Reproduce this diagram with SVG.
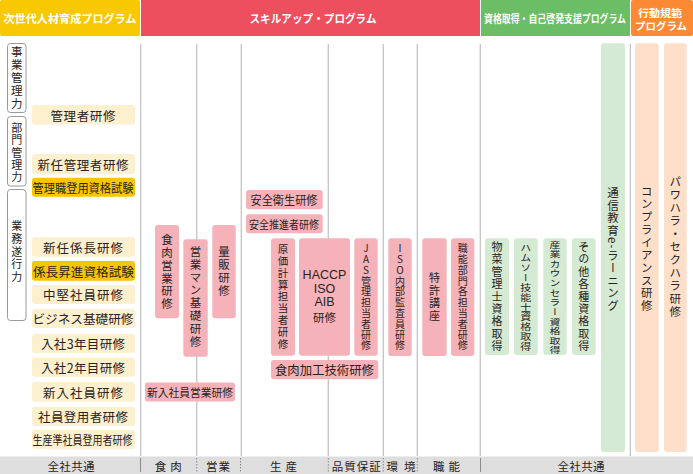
<svg xmlns="http://www.w3.org/2000/svg" width="693" height="474" viewBox="0 0 693 474">
<style>
.t{font-family:"Noto Sans CJK JP","Noto Sans",sans-serif;fill:#2a2220;}
.h{font-family:"Noto Sans CJK JP","Noto Sans",sans-serif;fill:#fff;font-weight:bold;}
.c{text-anchor:middle;dominant-baseline:central;}
.v{writing-mode:vertical-rl;text-anchor:middle;}
.u{text-orientation:upright;}
.lat{font-family:"Liberation Sans","Noto Sans",sans-serif;}
.ly{fill:#fdf0cf;}
.gd{fill:#f7c600;}
.pk{fill:#f5b3b9;}
.lg{fill:#d4ead2;}
.lo{fill:#fddfca;}
.lab{fill:#fff;stroke:#9a9a9a;stroke-width:1;}
.gl{stroke:#c4c4c4;stroke-width:1.3;}
.sep{stroke:#8a8a8a;stroke-width:1;}
.dot{stroke:#8a8a8a;stroke-width:1;stroke-dasharray:1.5 1.5;}
</style>
<rect width="693" height="474" fill="#fff"/>
<g id="headers">
<g id="h-next"><rect x="0" y="0" width="140" height="36" rx="2" fill="#f8c800"/><text class="h c" x="70" y="18" font-size="11.5" textLength="133" lengthAdjust="spacingAndGlyphs">次世代人材育成プログラム</text></g>
<g id="h-skill"><rect x="141" y="0" width="339" height="36" fill="#ee4f5e"/><text class="h c" x="313" y="18" font-size="11.5" textLength="127" lengthAdjust="spacingAndGlyphs">スキルアップ・プログラム</text></g>
<g id="h-qual"><rect x="481" y="0" width="149" height="36" fill="#6bbd66"/><text class="h c" x="555" y="18" font-size="11" textLength="142" lengthAdjust="spacingAndGlyphs">資格取得・自己啓発支援プログラム</text></g>
<g id="h-conduct"><rect x="631" y="0" width="62" height="36" rx="2" fill="#fc8a35"/><text class="h c" x="660" y="12" font-size="10.5" textLength="44" lengthAdjust="spacingAndGlyphs">行動規範</text><text class="h c" x="661" y="25.5" font-size="10.5" textLength="52" lengthAdjust="spacingAndGlyphs">プログラム</text></g>
</g>
<g id="connectors">
<line class="gl" x1="140.7" y1="44" x2="140.7" y2="456"/>
<line class="gl" x1="196.7" y1="44" x2="196.7" y2="456"/>
<line class="gl" x1="241.3" y1="44" x2="241.3" y2="456"/>
<line class="gl" x1="328.3" y1="44" x2="328.3" y2="456"/>
<line class="gl" x1="383.3" y1="44" x2="383.3" y2="456"/>
<line class="gl" x1="417.3" y1="44" x2="417.3" y2="456"/>
<line class="gl" x1="480.3" y1="44" x2="480.3" y2="456"/>
<line class="gl" x1="630.3" y1="44" x2="630.3" y2="456"/>
</g>
<g id="levels">
<g id="lv-business"><rect class="lab" x="7.5" y="43.5" width="18.5" height="69" rx="3"/><text class="t v" x="16.8" y="78.2" font-size="11.5" letter-spacing="1.5">事業管理力</text></g>
<g id="lv-dept"><rect class="lab" x="7.5" y="116.5" width="18.5" height="69.5" rx="3"/><text class="t v" x="16.8" y="153.1" font-size="11" letter-spacing="1.2">部門管理力</text></g>
<g id="lv-work"><rect class="lab" x="7.5" y="189.5" width="18.5" height="131" rx="3"/><text class="t v" x="16.8" y="252.3" font-size="11" letter-spacing="1.6">業務遂行力</text></g>
</g>
<g id="left-courses">
<g id="c-kanrisha"><rect class="ly" x="32" y="105" width="103" height="19.5" rx="3"/><text class="t c" x="83" y="115" font-size="12.5" textLength="65">管理者研修</text></g>
<g id="c-shinnin-kanri"><rect class="ly" x="32" y="154" width="103" height="20" rx="3"/><text class="t c" x="83" y="164.3" font-size="12.5" textLength="91">新任管理者研修</text></g>
<g id="c-kanrishoku"><rect class="gd" x="32" y="177.7" width="103" height="19" rx="3"/><text class="t c" x="83" y="187.5" font-size="12" textLength="101" lengthAdjust="spacingAndGlyphs">管理職登用資格試験</text></g>
<g id="c-kakaricho"><rect class="ly" x="32" y="237.3" width="103" height="19.5" rx="3"/><text class="t c" x="83" y="247.3" font-size="12.5" textLength="80">新任係長研修</text></g>
<g id="c-shoshin"><rect class="gd" x="32" y="261" width="103" height="19.7" rx="3"/><text class="t c" x="83.5" y="271" font-size="12.5" textLength="101" lengthAdjust="spacingAndGlyphs">係長昇進資格試験</text></g>
<g id="c-chuken"><rect class="ly" x="32" y="285" width="103" height="19" rx="3"/><text class="t c" x="83" y="294.8" font-size="12.5" textLength="80">中堅社員研修</text></g>
<g id="c-business"><rect class="ly" x="32" y="309" width="103" height="19" rx="3"/><text class="t c" x="83" y="318.8" font-size="12.5" textLength="101" lengthAdjust="spacingAndGlyphs">ビジネス基礎研修</text></g>
<g id="c-3nen"><rect class="ly" x="32" y="334" width="103" height="19" rx="3"/><text class="t c" x="83" y="343.8" font-size="12.5" textLength="84">入社3年目研修</text></g>
<g id="c-2nen"><rect class="ly" x="32" y="357.7" width="103" height="19" rx="3"/><text class="t c" x="83" y="367.5" font-size="12.5" textLength="84">入社2年目研修</text></g>
<g id="c-shinnyu"><rect class="ly" x="32" y="382" width="103" height="19.7" rx="3"/><text class="t c" x="83" y="392" font-size="12.5" textLength="80">新入社員研修</text></g>
<g id="c-toyo"><rect class="ly" x="32" y="406.7" width="103" height="19.3" rx="3"/><text class="t c" x="83" y="416.5" font-size="12.5" textLength="90">社員登用者研修</text></g>
<g id="c-junshain"><rect class="ly" x="32" y="430" width="103" height="19" rx="3"/><text class="t c" x="82.5" y="439.8" font-size="12" textLength="100" lengthAdjust="spacingAndGlyphs">生産準社員登用者研修</text></g>
</g>
<g id="skill-courses">
<g id="c-shokuniku-eigyo"><rect class="pk" x="155" y="225" width="24" height="93.3" rx="3"/><text class="t v" x="167" y="272.4" font-size="11.5" letter-spacing="1.4">食肉営業研修</text></g>
<g id="c-eigyoman"><rect class="pk" x="183.3" y="239.3" width="24.4" height="117.4" rx="3"/><text class="t v" x="195.5" y="297.2" font-size="11.5" letter-spacing="1.4">営業マン基礎研修</text></g>
<g id="c-ryohan"><rect class="pk" x="212.3" y="225" width="23.4" height="93.3" rx="3"/><text class="t v" x="224" y="272.2" font-size="11.5" letter-spacing="1.5">量販研修</text></g>
<g id="c-shinnyu-eigyo"><rect class="pk" x="145" y="382.5" width="90" height="19" rx="3"/><text class="t c" x="190" y="392" font-size="11" textLength="86" lengthAdjust="spacingAndGlyphs">新入社員営業研修</text></g>
<g id="c-anzen-eisei"><rect class="pk" x="246" y="190" width="76.7" height="19.3" rx="3"/><text class="t c" x="284" y="199.8" font-size="12" textLength="67" lengthAdjust="spacingAndGlyphs">安全衛生研修</text></g>
<g id="c-anzen-suishin"><rect class="pk" x="246" y="214.3" width="76.7" height="19" rx="3"/><text class="t c" x="284" y="224" font-size="11.5" textLength="70" lengthAdjust="spacingAndGlyphs">安全推進者研修</text></g>
<g id="c-genka"><rect class="pk" x="271" y="238.3" width="24" height="117.4" rx="3"/><text class="t v" x="283" y="297.2" font-size="10.5" letter-spacing="1.4">原価計算担当者研修</text></g>
<g id="c-haccp"><rect class="pk" x="299" y="238.3" width="51" height="117.4" rx="3"/><text class="t c lat" x="324.5" y="275" font-size="12.5">HACCP</text><text class="t c lat" x="324.5" y="288.5" font-size="12.5">ISO</text><text class="t c lat" x="324.5" y="302" font-size="12.5">AIB</text><text class="t c" x="324.5" y="317" font-size="11.5">研修</text></g>
<g id="c-jas"><rect class="pk" x="354.3" y="238.3" width="23.4" height="117.4" rx="3"/><text class="t v u" x="366" y="297.4" font-size="10" letter-spacing="0.8">JAS管理担当者研修</text></g>
<g id="c-kako"><rect class="pk" x="271" y="360" width="107.3" height="19.3" rx="3"/><text class="t c" x="324.5" y="369.8" font-size="12.5" textLength="99" lengthAdjust="spacingAndGlyphs">食肉加工技術研修</text></g>
<g id="c-iso"><rect class="pk" x="388.3" y="238.3" width="23.4" height="117.7" rx="3"/><text class="t v u" x="400" y="297.4" font-size="10" letter-spacing="0.8">ISO内部監査員研修</text></g>
<g id="c-tokkyo"><rect class="pk" x="422.3" y="238.3" width="24.4" height="117.7" rx="3"/><text class="t v" x="434.5" y="297.7" font-size="11" letter-spacing="1.5">特許講座</text></g>
<g id="c-shokuno"><rect class="pk" x="451" y="238.3" width="23.3" height="117.7" rx="3"/><text class="t v" x="462.7" y="297.4" font-size="10" letter-spacing="0.8">職能部門各担当者研修</text></g>
</g>
<g id="qual-courses">
<g id="c-sozai"><rect class="lg" x="485" y="238.3" width="24" height="116.7" rx="3"/><text class="t v" x="497" y="297.2" font-size="11" letter-spacing="1.4">物菜管理士資格取得</text></g>
<g id="c-hamuso"><rect class="lg" x="514" y="238.3" width="23.7" height="116.7" rx="3"/><text class="t v" transform="translate(525.8 297.8) scale(1 0.8)" x="0" y="0" font-size="11" letter-spacing="1.4">ハムソー技能士資格取得</text></g>
<g id="c-counselor"><rect class="lg" x="543.3" y="238.3" width="23.4" height="116.7" rx="3"/><text class="t v" transform="translate(555 297.8) scale(1 0.775)" x="0" y="0" font-size="11" letter-spacing="1.4">産業カウンセラー資格取得</text></g>
<g id="c-sonota"><rect class="lg" x="572" y="238.3" width="23.7" height="116.7" rx="3"/><text class="t v" x="583.8" y="297.2" font-size="11" letter-spacing="1.4">その他各種資格取得</text></g>
<g id="c-elearning"><rect class="lg" x="601" y="43.3" width="24" height="408.7" rx="3"/><text class="t v" x="613" y="249.5" font-size="11.5" letter-spacing="1">通信教育e-ラーニング</text></g>
</g>
<g id="conduct-courses">
<g id="c-compliance"><rect class="lo" x="635" y="43.3" width="23.7" height="408.7" rx="3"/><text class="t v" x="646.8" y="249.1" font-size="11.5" letter-spacing="1.2">コンプライアンス研修</text></g>
<g id="c-harassment"><rect class="lo" x="664" y="43.3" width="22.7" height="408.7" rx="3"/><text class="t v" x="675.3" y="247.2" font-size="11.5" letter-spacing="1.5">パワハラ・セクハラ研修</text></g>
</g>
<g id="footer">
<rect x="0" y="456.5" width="693" height="17.5" fill="#dedede"/>
<line class="sep" x1="140.5" y1="458" x2="140.5" y2="472"/>
<line class="dot" x1="196.7" y1="458" x2="196.7" y2="472"/>
<line class="dot" x1="240.5" y1="458" x2="240.5" y2="472"/>
<line class="dot" x1="328.3" y1="458" x2="328.3" y2="472"/>
<line class="dot" x1="383.3" y1="458" x2="383.3" y2="472"/>
<line class="dot" x1="417.3" y1="458" x2="417.3" y2="472"/>
<line class="sep" x1="480.5" y1="458" x2="480.5" y2="472"/>
<text class="t c" x="71" y="465.5" font-size="11.5" textLength="47">全社共通</text>
<text class="t c" x="168.3" y="465.5" font-size="11.5" textLength="27">食肉</text>
<text class="t c" x="218" y="465.5" font-size="11.5" textLength="24">営業</text>
<text class="t c" x="283.5" y="465.5" font-size="11.5" textLength="27">生産</text>
<text class="t c" x="356.3" y="465.5" font-size="11.5" textLength="49">品質保証</text>
<text class="t c" x="401" y="465.5" font-size="11.5" textLength="29">環境</text>
<text class="t c" x="446.5" y="465.5" font-size="11.5" textLength="27">職能</text>
<text class="t c" x="581" y="465.5" font-size="11.5" textLength="47">全社共通</text>
</g>
</svg>
